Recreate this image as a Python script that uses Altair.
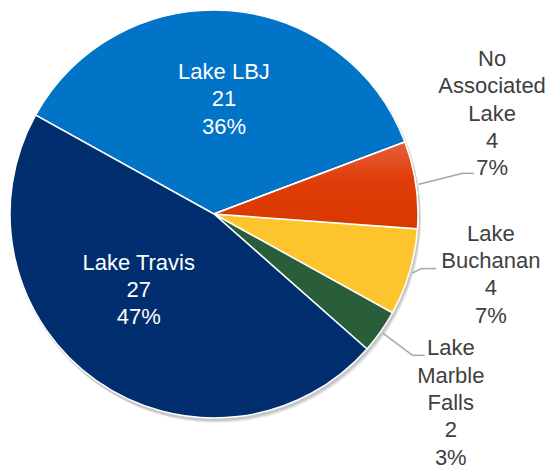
import math
import altair as alt
import pandas as pd

# ---- data ----
lakes = ["Lake LBJ", "No Associated Lake", "Lake Buchanan", "Lake Marble Falls", "Lake Travis"]
counts = [21, 4, 4, 2, 27]
colors = ["#0274C8", "#E04214", "#FEC42D", "#2A5E3A", "#012E6F"]
inside_lakes = ["Lake LBJ", "Lake Travis"]

# ---- layout / style ----
START = math.radians(299)      # angle where the first slice (Lake LBJ) begins
CX, CY = 206, 206              # pie centre inside the plot area
R = 204
LH = 27.3                      # label line height
# label placement: (radius, angle nudge in degrees)
label_layout = {
    "Lake LBJ": (115, 0.8),
    "No Associated Lake": (295.6, -11.6),
    "Lake Buchanan": (283.5, -4.2),
    "Lake Marble Falls": (303, 3.4),
    "Lake Travis": (107, 9.5),
}
# leader lines: (elbow dx, elbow dy from slice edge, horizontal length)
leader_layout = {
    "No Associated Lake": (44, -11, 11),
    "Lake Buchanan": (8.5, -4.5, 15),
    "Lake Marble Falls": (29.5, 22, 12),
}

total = sum(counts)
labels = []
for lake, c in zip(lakes, counts):
    pct = f"{round(c / total * 100)}%"
    if lake in inside_lakes:
        labels.append("\n".join([lake, str(c), pct]))
    else:
        labels.append("\n".join(lake.split(" ") + [str(c), pct]))

df = pd.DataFrame({
    "lake": lakes,
    "count": counts,
    "idx": list(range(len(lakes))),
    "label": labels,
    "inside": [l in inside_lakes for l in lakes],
    "lr": [label_layout[l][0] for l in lakes],
    "ladj": [math.radians(label_layout[l][1]) for l in lakes],
    "edx": [leader_layout.get(l, (0, 0, 0))[0] for l in lakes],
    "edy": [leader_layout.get(l, (0, 0, 0))[1] for l in lakes],
    "hlen": [leader_layout.get(l, (0, 0, 0))[2] for l in lakes],
})

theta_scale = alt.Scale(range=[START, START + 2 * math.pi])

base = alt.Chart(df)

# soft drop shadow
one = pd.DataFrame({"k": [0]})
shadows = [
    alt.Chart(one).mark_arc(theta=0, theta2=2 * math.pi, outerRadius=r, fill="#000000", opacity=o)
    .encode(x=alt.value(CX + dx), y=alt.value(CY + dy))
    for dx, dy, r, o in [(1, 2, 205, 0.10), (2, 3, 205, 0.08), (3, 5, 204, 0.06)]
]

pie = base.mark_arc(outerRadius=R, stroke="white", strokeWidth=1.5).encode(
    theta=alt.Theta("count:Q", stack=True, scale=theta_scale),
    color=alt.Color("lake:N", scale=alt.Scale(domain=lakes, range=colors), legend=None),
    order=alt.Order("idx:Q"),
    x=alt.value(CX),
    y=alt.value(CY),
)

grad = base.mark_arc(
    outerRadius=R, stroke="white", strokeWidth=1.5,
    fill=alt.Gradient(
        gradient="linear",
        stops=[alt.GradientStop(offset=0, color="#E4603A"),
               alt.GradientStop(offset=0.45, color="#E03C08"),
               alt.GradientStop(offset=1, color="#D83800")],
        x1=0, x2=0, y1=0, y2=1,
    ),
).encode(
    theta=alt.Theta("count:Q", stack=True, scale=theta_scale),
    order=alt.Order("idx:Q"),
    opacity=alt.condition("datum.lake == 'No Associated Lake'", alt.value(1), alt.value(0)),
    x=alt.value(CX),
    y=alt.value(CY),
)

geo = (
    base.transform_joinaggregate(total="sum(count)")
    .transform_window(cum="sum(count)", sort=[alt.SortField("idx")], frame=[None, 0])
    .transform_calculate(
        mid=f"{START} + (datum.cum - datum.count / 2) / datum.total * 2 * PI",
        nl="length(split(datum.label, '\\n'))",
    )
    .transform_calculate(
        lx=f"{CX} + datum.lr * sin(datum.mid + datum.ladj)",
        ly=f"{CY} - datum.lr * cos(datum.mid + datum.ladj) - (datum.nl - 1) / 2 * {LH}",
        ex=f"{CX} + {R + 3} * sin(datum.mid)",
        ey=f"{CY} - {R + 3} * cos(datum.mid)",
    )
    .transform_calculate(
        bx="datum.ex + datum.edx",
        by="datum.ey + datum.edy",
    )
    .transform_calculate(cx2="datum.bx + datum.hlen")
)

text = geo.mark_text(
    font="Liberation Sans", fontSize=22, lineHeight=LH, lineBreak="\n",
    align="center", baseline="middle",
).encode(
    x=alt.X("lx:Q", scale=None, axis=None),
    y=alt.Y("ly:Q", scale=None, axis=None),
    text="label:N",
    color=alt.condition("datum.inside", alt.value("white"), alt.value("#404040")),
)

outside = geo.transform_filter("!datum.inside")
lead1 = outside.mark_rule(color="#A6A6A6", strokeWidth=1.5).encode(
    x=alt.X("ex:Q", scale=None, axis=None), y=alt.Y("ey:Q", scale=None, axis=None),
    x2="bx:Q", y2="by:Q",
)
lead2 = outside.mark_rule(color="#A6A6A6", strokeWidth=1.5).encode(
    x=alt.X("bx:Q", scale=None, axis=None), y=alt.Y("by:Q", scale=None, axis=None),
    x2="cx2:Q", y2="by:Q",
)

chart = alt.layer(*shadows, pie, grad, lead1, lead2, text).properties(
    width=541, height=459, padding=0, autosize=alt.AutoSizeParams(type="none"),
    background="white",
).configure_view(stroke=None)

chart.save("out.html", embed_options={"renderer": "svg", "actions": False})
